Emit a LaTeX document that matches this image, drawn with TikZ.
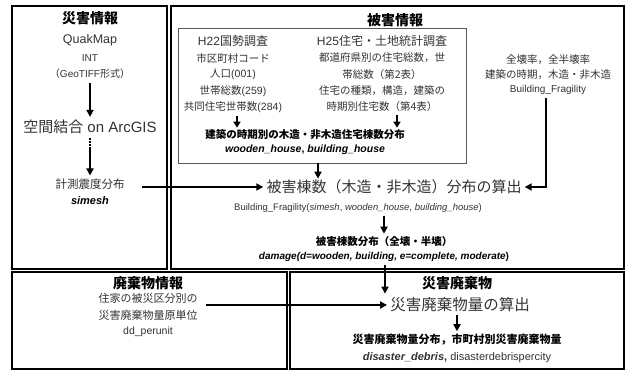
\documentclass[tikz,border=0pt]{standalone}
\usepackage{fontspec}
\setmainfont{Liberation Sans}
\newfontfamily\jp{Noto Sans CJK JP}
\usetikzlibrary{arrows.meta}
\newcommand\fsz[1]{\fontsize{#1}{#1}\selectfont}
\begin{document}
\begin{tikzpicture}[x=1pt,y=-1pt,
  box/.style={draw=black, line width=1.4pt},
  innerbox/.style={draw=black!65, line width=0.9pt},
  txt/.style={inner sep=0pt, text=black!80},
  btxt/.style={inner sep=0pt, text=black},
  arr/.style={line width=1.7pt, -{Triangle[length=7pt,width=7pt]}},
  sarr/.style={line width=1.6pt, -{Triangle[length=6pt,width=7pt]}}]
\useasboundingbox (0,0) rectangle (626,372);
\fill[white] (0,0) rectangle (626,372);

% boxes
\draw[box] (12,6) rectangle (167,269);
\draw[box] (171,6) rectangle (624,269);
\draw[box] (12,272) rectangle (287,369);
\draw[box] (290,272) rectangle (624,369);
\node[innerbox, minimum width=288pt, minimum height=135pt, inner sep=0pt] (ib) at (322,95.5) {};

% box 1
\node[btxt] (t1) at (90,18) {\jp\bfseries\fsz{14}災害情報};
\node[txt] (qm) at (90,40) {\fsz{12.5}QuakMap};
\node[txt] (int) at (90,58) {\fsz{10}INT};
\node[txt] (geo) at (90,74) {\fsz{10}{\jp （}GeoTIFF{\jp 形式）}};
\node[txt] (sj) at (90,127) {\fsz{15}{\jp 空間結合} on ArcGIS};
\node[txt] (ks) at (90,184) {\jp\fsz{11.5}計測震度分布};
\node[btxt] (sim) at (90,201) {\fsz{11}\bfseries\itshape simesh};
\draw[arr, shorten <=4pt, shorten >=3pt] (geo) -- (sj);
\draw[arr, shorten <=4pt, shorten >=3pt, dash pattern=on 1.5pt off 1.5pt on 1.5pt off 1.5pt on 1.5pt off 1.5pt on 40pt off 0pt] (sj) -- (ks);

% box 2
\node[btxt] (t2) at (395,20) {\jp\bfseries\fsz{14}被害情報};
\node[txt] (h22) at (233,41) {\fsz{12}H22{\jp 国勢調査}};
\node[txt] (h22a) at (233,58) {\jp\fsz{10.5}市区町村コード};
\node[txt] (h22b) at (233,74) {\fsz{10.5}{\jp 人口}(001)};
\node[txt] (h22c) at (233,91) {\fsz{10.5}{\jp 世帯総数}(259)};
\node[txt] (h22d) at (233,107) {\fsz{10.5}{\jp 共同住宅世帯数}(284)};
\node[txt] (h25) at (382,41) {\fsz{12}H25{\jp 住宅・土地統計調査}};
\node[txt] (h25a) at (382,58) {\jp\fsz{10.5}都道府県別の住宅総数，世};
\node[txt] (h25b) at (382,75) {\jp\fsz{10.5}帯総数（第2表）};
\node[txt] (h25c) at (382,91) {\jp\fsz{10.5}住宅の種類，構造，建築の};
\node[txt] (h25d) at (382,107) {\jp\fsz{10.5}時期別住宅数（第4表）};
\node[btxt] (wd) at (305,135) {\jp\bfseries\fsz{10.5}建築の時期別の木造・非木造住宅棟数分布};
\node[btxt] (wh) at (305,150) {\fsz{10.5}\bfseries\itshape wooden\_house\upshape, \itshape building\_house};
\path (h22d.south) ++(4,0) coordinate (a1);
\path (h25d.south) ++(15,0) coordinate (a2);
\draw[sarr, shorten <=3pt, shorten >=2pt] (a1) -- (a1 |- wd.north);
\draw[sarr, shorten <=3pt, shorten >=2pt] (a2) -- (a2 |- wd.north);

\node[txt] (fr1) at (548,60) {\jp\fsz{10.5}全壊率，全半壊率};
\node[txt] (fr2) at (548,75) {\jp\fsz{10.5}建築の時期，木造・非木造};
\node[txt] (fr3) at (548,90) {\fsz{10}Building\_Fragility};

\node[txt] (calc) at (394,187) {\jp\fsz{15}被害棟数（木造・非木造）分布の算出};
\node[txt] (bf) at (358,208) {\fsz{9.5}Building\_Fragility(\textit{simesh}, \textit{wooden\_house}, \textit{building\_house})};
\node[btxt] (dmg1) at (384,242) {\jp\bfseries\fsz{10.5}被害棟数分布（全壊・半壊）};
\node[btxt] (dmg2) at (384,257) {\fsz{10}\bfseries\itshape damage(d=wooden, building, e=complete, moderate\upshape)};

\path (ib.south) ++(-4,0) coordinate (ibs);
\draw[arr, shorten >=1pt] (ibs) -- (ibs |- calc.north);
\path (fr3.south) ++(-2,0) coordinate (frs);
\draw[arr, shorten <=3pt, shorten >=3pt] (frs) |- (calc.east);
\path (ks.east) ++(17,0) coordinate (kse);
\draw[arr, shorten >=3pt] (kse |- calc.west) -- (calc.west);
\draw[arr, shorten <=3pt, shorten >=3pt] (bf.south -| dmg1.north) -- (dmg1.north);

% box 3
\node[btxt] (t3) at (148,283) {\jp\bfseries\fsz{14}廃棄物情報};
\node[txt] (w1) at (148,298) {\jp\fsz{11}住家の被災区分別の};
\node[txt] (w2) at (148,315) {\jp\fsz{11}災害廃棄物量原単位};
\node[txt] (w3) at (148,332) {\fsz{10.5}dd\_perunit};

% box 4
\node[btxt] (t4) at (457,283) {\jp\bfseries\fsz{14}災害廃棄物};
\node[txt] (dc) at (460,305) {\jp\fsz{15.5}災害廃棄物量の算出};
\node[btxt] (dd1) at (457,340) {\jp\bfseries\fsz{11}災害廃棄物量分布，市町村別災害廃棄物量};
\node[txt] (dd2) at (457,358) {\fsz{11}\textbf{\textit{disaster\_debris}}\textbf{,} disasterdebrispercity};

\path (dmg2.south) ++(1,0) coordinate (ds);
\draw[arr, shorten <=3pt, shorten >=4pt] (ds) -- (ds |- dc.north);
\path (w1.east) ++(8,0) coordinate (ws);
\draw[arr, shorten >=3pt] (ws |- dc.west) -- (dc.west);
\draw[arr, shorten <=3pt, shorten >=3pt] (dc.south -| dd1.north) -- (dd1.north);
\end{tikzpicture}
\end{document}
